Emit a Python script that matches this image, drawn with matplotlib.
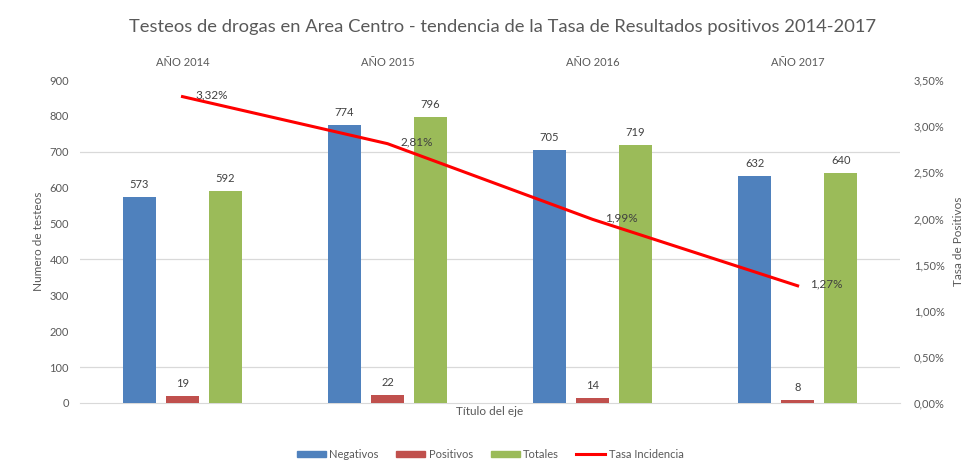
import numpy as np
import matplotlib
matplotlib.use('Agg')
from matplotlib import pyplot as plt
from matplotlib.ticker import FuncFormatter
from matplotlib.patches import Patch
from matplotlib.lines import Line2D

# Datos
anios = ['AÑO 2014', 'AÑO 2015', 'AÑO 2016', 'AÑO 2017']
negativos = [573, 774, 705, 632]
positivos = [19, 22, 14, 8]
totales = [592, 796, 719, 640]
tasa = [0.0332, 0.0281, 0.0199, 0.0127]

azul = '#4F81BD'
rojo = '#C0504D'
verde = '#9BBB59'
gris = '#595959'

plt.rcParams['font.family'] = ['Lato', 'DejaVu Sans']

fig = plt.figure(figsize=(9.71, 4.63), dpi=100)
ax = fig.add_axes([0.0824, 0.1296, 0.8446, 0.6976])

x = np.arange(len(anios))
ancho = 0.16
desp = 0.21

b1 = ax.bar(x - desp, negativos, ancho, color=azul, zorder=3)
b2 = ax.bar(x, positivos, ancho, color=rojo, zorder=3)
b3 = ax.bar(x + desp, totales, ancho, color=verde, zorder=3)

for barras in (b1, b2, b3):
    for b in barras:
        ax.annotate(str(int(b.get_height())), (b.get_x() + b.get_width() / 2, b.get_height()),
                    xytext=(0, 5), textcoords='offset points', ha='center', va='bottom',
                    fontsize=8, color='#404040')

ax.set_xlim(-0.5, 3.5)
ax.set_ylim(0, 900)
ax.set_yticks(np.arange(0, 901, 100))
# solo se ven algunas líneas de cuadrícula en la imagen
for g in (100, 400, 700):
    ax.axhline(g, color='#D9D9D9', lw=0.9, zorder=1)

ax.xaxis.tick_top()
ax.set_xticks(x)
ax.set_xticklabels(anios)
ax.xaxis.set_label_position('bottom')
ax.set_xlabel('Título del eje', fontsize=8.5, color=gris, labelpad=2)
ax.set_ylabel('Numero de testeos', fontsize=8.5, color=gris, labelpad=4)
ax.tick_params(axis='both', length=0, labelsize=8, labelcolor=gris)
ax.tick_params(axis='x', pad=9)
ax.tick_params(axis='y', pad=8)

for s in ['top', 'left', 'right']:
    ax.spines[s].set_visible(False)
ax.spines['bottom'].set_color('#D9D9D9')

ax2 = ax.twinx()
ax2.plot(x, tasa, color='#FF0000', lw=2.2, zorder=4)
for xi, t in zip(x, tasa):
    ax2.annotate(('%.2f%%' % (t * 100)).replace('.', ','), (xi, t), xytext=(9, 1),
                 textcoords='offset points', ha='left', va='center', fontsize=8.5, color='#404040')
ax2.set_ylim(0, 0.035)
ax2.set_yticks(np.arange(0, 0.0351, 0.005))
ax2.yaxis.set_major_formatter(FuncFormatter(lambda v, p: ('%.2f%%' % (v * 100)).replace('.', ',')))
ax2.tick_params(axis='y', length=0, labelsize=8, labelcolor=gris, pad=10)
ax2.set_ylabel('Tasa de Positivos', fontsize=8.5, color=gris, labelpad=6)
for s in ['top', 'left', 'right', 'bottom']:
    ax2.spines[s].set_visible(False)

fig.suptitle('Testeos de drogas en Area Centro - tendencia de la Tasa de Resultados positivos 2014-2017',
             x=0.518, y=0.96, fontsize=13.2, color=gris)

manejadores = [Patch(color=azul), Patch(color=rojo), Patch(color=verde),
               Line2D([0], [0], color='#FF0000', lw=2.2)]
fig.legend(manejadores, ['Negativos', 'Positivos', 'Totales', 'Tasa Incidencia'],
           loc='lower center', bbox_to_anchor=(0.505, -0.015), ncol=4, frameon=False,
           fontsize=8, labelcolor=gris, handlelength=2.6, handleheight=0.45,
           handletextpad=0.3, columnspacing=1.6)

plt.savefig('out.png', dpi=100)
